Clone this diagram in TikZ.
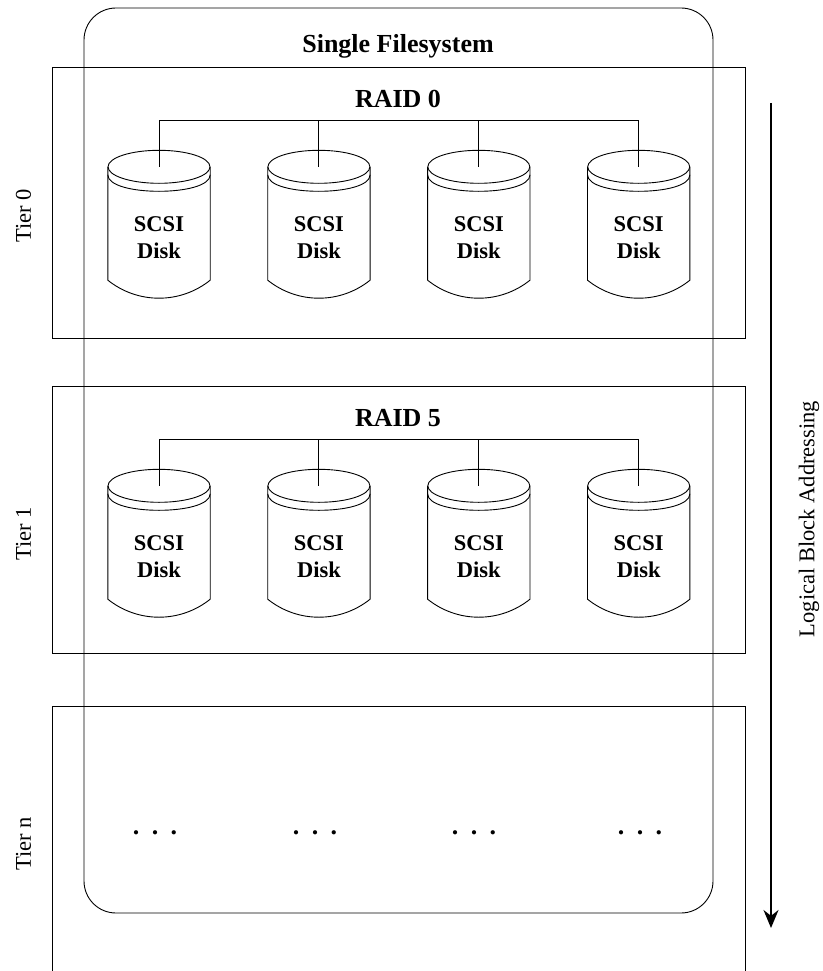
\documentclass[tikz,border=0pt]{standalone}
\usepackage{fontspec}
\setmainfont{Liberation Serif}
\usetikzlibrary{positioning,arrows.meta}
\tikzset{
  node-tier/.style={draw,line width=0.9pt,inner sep=0pt,minimum width=693pt},
  node-fs/.style={draw,line width=0.9pt,rounded corners=32pt,inner sep=0pt,
    minimum width=629pt,minimum height=905pt},
  node-disk/.style={inner sep=0pt,minimum width=102pt,minimum height=120pt,
    align=center,font=\fontsize{22.5}{27}\selectfont\bfseries},
  node-title/.style={inner sep=0pt,font=\fontsize{26}{30}\selectfont\bfseries},
  node-side/.style={inner sep=0pt,rotate=90,font=\fontsize{22.5}{27}\selectfont},
  disk-line/.style={line width=0.9pt},
  arrow-lba/.style={-{Stealth[length=18pt,width=15pt]},line width=2pt},
}
% cylinder drawn round a text node; hub is where the bus line lands
\newcommand{\drawdisk}[1]{%
  \coordinate (#1-hub) at ([yshift=11pt]#1.north);
  \draw[disk-line] ([yshift=11pt]#1.north west) -- ([yshift=18pt]#1.south west)
    .. controls +(30,24) and +(-30,24) .. ([yshift=18pt]#1.south east)
    -- ([yshift=11pt]#1.north east);
  \draw[disk-line] (#1-hub) ellipse [x radius=51pt,y radius=16.5pt];
  \draw[disk-line] ([yshift=3pt]#1.north west)
    .. controls +(0,22) and +(0,22) .. ([yshift=3pt]#1.north east);
}
\begin{document}
\begin{tikzpicture}[x=1pt,y=-1pt,node distance=57.5pt]
  \useasboundingbox (0,0) rectangle (822,971);
  \node[node-fs] (fs) at (398.5,460.5) {};
  \node[node-tier,minimum height=271pt] (tier0) at (398.5,202.5) {};
  \node[node-tier,minimum height=267pt] (tier1) at (398.5,519.5) {};
  % tier n runs off the page, so no bottom edge
  \draw[disk-line] (52,971) |- (745,706) -- (745,971);

  \node[node-title] (fs-title) at (398,46) {Single Filesystem};
  \node[node-title] (raid0) at (398,99) {RAID 0};
  \node[node-title] (raid5) at (398,418) {RAID 5};
  \coordinate (bus0) at (398,120);
  \coordinate (bus1) at (398,439);

  \node[node-disk] (d01) at (159,238) {SCSI\\Disk};
  \node[node-disk,right=of d01] (d02) {SCSI\\Disk};
  \node[node-disk,right=of d02] (d03) {SCSI\\Disk};
  \node[node-disk,right=of d03] (d04) {SCSI\\Disk};
  \node[node-disk] (d11) at (159,557) {SCSI\\Disk};
  \node[node-disk,right=of d11] (d12) {SCSI\\Disk};
  \node[node-disk,right=of d12] (d13) {SCSI\\Disk};
  \node[node-disk,right=of d13] (d14) {SCSI\\Disk};
  \drawdisk{d01} \drawdisk{d02} \drawdisk{d03} \drawdisk{d04}
  \drawdisk{d11} \drawdisk{d12} \drawdisk{d13} \drawdisk{d14}

  \draw[disk-line] (bus0) -| (d01-hub);
  \draw[disk-line] (bus0) -| (d02-hub);
  \draw[disk-line] (bus0) -| (d03-hub);
  \draw[disk-line] (bus0) -| (d04-hub);
  \draw[disk-line] (bus1) -| (d11-hub);
  \draw[disk-line] (bus1) -| (d12-hub);
  \draw[disk-line] (bus1) -| (d13-hub);
  \draw[disk-line] (bus1) -| (d14-hub);

  \node[node-title] (dots1) at (155,833) {.\hspace{12.3pt}.\hspace{12.3pt}.};
  \node[node-title] (dots2) at (315,833) {.\hspace{12.3pt}.\hspace{12.3pt}.};
  \node[node-title] (dots3) at (474,833) {.\hspace{12.3pt}.\hspace{12.3pt}.};
  \node[node-title] (dots4) at (640,833) {.\hspace{12.3pt}.\hspace{12.3pt}.};

  \node[node-side] (tier0-label) at (23.5,216) {Tier 0};
  \node[node-side] (tier1-label) at (23.5,534) {Tier 1};
  \node[node-side] (tiern-label) at (23.5,844) {Tier n};
  \node[node-side] (lba-label) at (809,519) {Logical Block Addressing};

  \coordinate (lba-top) at (771,103);
  \coordinate (lba-end) at (771,928);
  \draw[arrow-lba] (lba-top) -- (lba-end);
\end{tikzpicture}
\end{document}
